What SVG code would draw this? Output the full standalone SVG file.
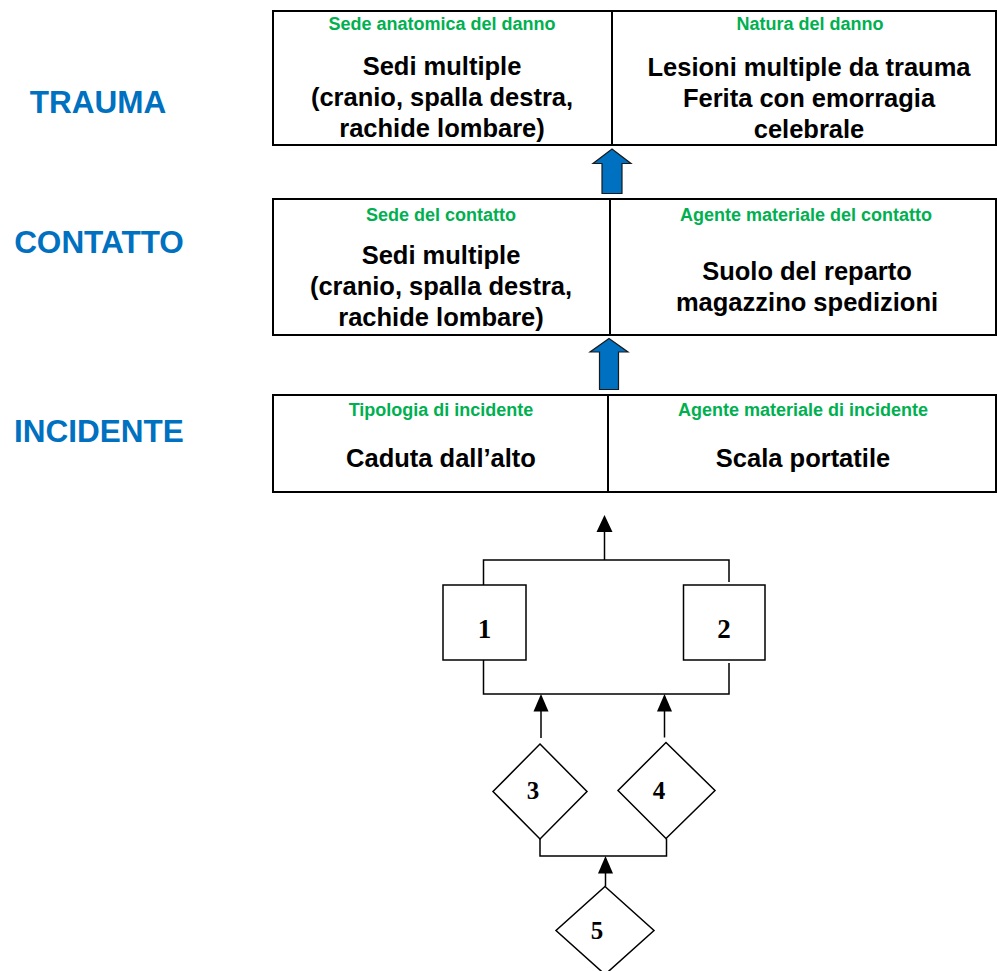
<svg xmlns="http://www.w3.org/2000/svg" width="997" height="971" viewBox="0 0 997 971">
<style>
.tbl{fill:#fff;stroke:#000;stroke-width:2}
.div{stroke:#000;stroke-width:2}
.hdr{font-family:"Liberation Sans",Arial,sans-serif;font-weight:bold;font-size:18px;fill:#00B050;text-anchor:middle}
.body{font-family:"Liberation Sans",Arial,sans-serif;font-weight:bold;font-size:25.5px;fill:#000;text-anchor:middle}
.lvl{font-family:"Liberation Sans",Arial,sans-serif;font-weight:bold;font-size:31.5px;fill:#0070C0;text-anchor:middle}
.blk{fill:#0070C0;stroke:#1a1a1a;stroke-width:1.2}
.shape{fill:#fff;stroke:#000;stroke-width:1.5}
.num{font-family:"Liberation Serif","Times New Roman",serif;font-weight:bold;font-size:25px;fill:#000;text-anchor:middle}
.big{font-size:27px}
.ln{fill:none;stroke:#000;stroke-width:1.5}
.ah{fill:#000}
</style>

<g id="label-trauma"><text class="lvl" x="98" y="112.5">TRAUMA</text></g>
<g id="label-contatto"><text class="lvl" x="99" y="252.5">CONTATTO</text></g>
<g id="label-incidente"><text class="lvl" x="99" y="441.5">INCIDENTE</text></g>

<g id="table-trauma">
<rect class="tbl" x="273" y="11" width="723" height="134"/>
<line class="div" x1="612" y1="11" x2="612" y2="145"/>
<text class="hdr" x="442" y="29.5">Sede anatomica del danno</text>
<text class="hdr" x="810" y="30">Natura del danno</text>
<text class="body" x="442" y="75">Sedi multiple</text>
<text class="body" x="442" y="106">(cranio, spalla destra,</text>
<text class="body" x="442" y="137">rachide lombare)</text>
<text class="body" x="809" y="76">Lesioni multiple da trauma</text>
<text class="body" x="809" y="107">Ferita con emorragia</text>
<text class="body" x="809" y="138">celebrale</text>
</g>

<g id="table-contatto">
<rect class="tbl" x="273" y="199" width="723" height="136"/>
<line class="div" x1="610" y1="199" x2="610" y2="335"/>
<text class="hdr" x="441" y="220.5">Sede del contatto</text>
<text class="hdr" x="806" y="220.5">Agente materiale del contatto</text>
<text class="body" x="441" y="264">Sedi multiple</text>
<text class="body" x="441" y="295">(cranio, spalla destra,</text>
<text class="body" x="441" y="326">rachide lombare)</text>
<text class="body" x="807" y="280">Suolo del reparto</text>
<text class="body" x="807" y="311">magazzino spedizioni</text>
</g>

<g id="table-incidente">
<rect class="tbl" x="273" y="395" width="723" height="97"/>
<line class="div" x1="608" y1="395" x2="608" y2="492"/>
<text class="hdr" x="441" y="416">Tipologia di incidente</text>
<text class="hdr" x="803" y="416">Agente materiale di incidente</text>
<text class="body" x="441" y="467">Caduta dall’alto</text>
<text class="body" x="803" y="467">Scala portatile</text>
</g>

<g id="node-1">
<rect class="shape" x="443" y="585" width="83" height="75"/>
<text class="num big" x="484.5" y="637.5">1</text>
</g>
<g id="node-2">
<rect class="shape" x="683.5" y="585" width="81.5" height="75"/>
<text class="num big" x="724" y="637.5">2</text>
</g>
<g id="node-3">
<polygon class="shape" points="540,744 587,791.5 540,839 493,791.5"/>
<text class="num" x="533" y="799">3</text>
</g>
<g id="node-4">
<polygon class="shape" points="666,742.5 715,790.5 666,838.5 618,790.5"/>
<text class="num" x="659" y="798.5">4</text>
</g>
<g id="node-5">
<polygon class="shape" points="605,886.5 654,930.5 605,974.5 556,930.5"/>
<text class="num" x="597" y="939">5</text>
</g>

<g id="connectors">
<polygon class="blk" points="612,149 631,163.5 622,163.5 622,193.5 602,193.5 602,163.5 593,163.5"/>
<polygon class="blk" points="609,338.5 628,352 618.5,352 618.5,389.5 599.5,389.5 599.5,352 590,352"/>

<polyline class="ln" points="483.5,585 483.5,560 729,560 729,582"/>
<line class="ln" x1="604.5" y1="560" x2="604.5" y2="530"/>
<polygon class="ah" points="604.5,515 612.5,532 596.5,532"/>

<polyline class="ln" points="483.5,660 483.5,694 729,694 729,663"/>
<line class="ln" x1="541" y1="738" x2="541" y2="710"/>
<polygon class="ah" points="541,694 548.5,711.5 533.5,711.5"/>
<line class="ln" x1="664.5" y1="737.5" x2="664.5" y2="710"/>
<polygon class="ah" points="664.5,694 672,711.5 657,711.5"/>

<polyline class="ln" points="540,839 540,856 666.5,856 666.5,838.5"/>
<line class="ln" x1="605.5" y1="886.5" x2="605.5" y2="872"/>
<polygon class="ah" points="605.5,856 613,873.5 598,873.5"/>
</g>
</svg>
